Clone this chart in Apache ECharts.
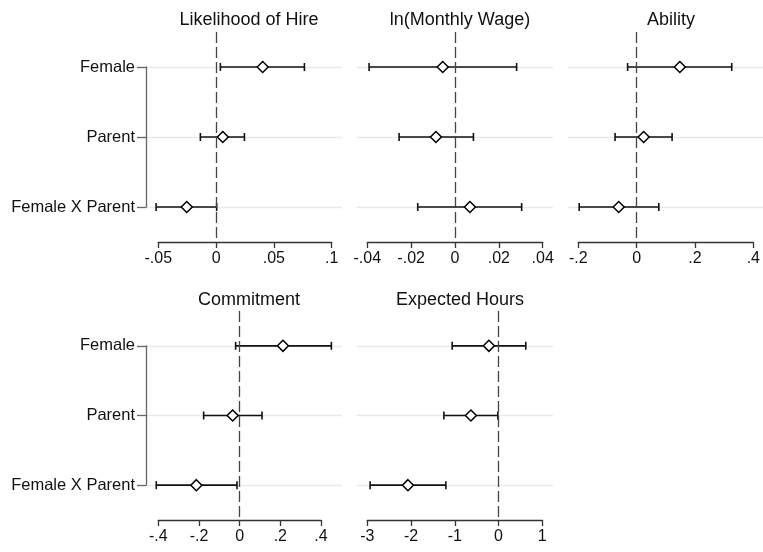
<!DOCTYPE html>
<html>
<head>
<meta charset="utf-8">
<script src="https://cdn.jsdelivr.net/npm/echarts@6/dist/echarts.min.js"></script>
<style>
  html, body { margin: 0; padding: 0; background: #fff; }
  #main { width: 763px; height: 552px; }
</style>
</head>
<body>
<div id="main"></div>
<script>
// coefficient rows, top to bottom
var categories = ['Female', 'Parent', 'Female X Parent'];

// point estimates and 95% CI bounds
var hireEst = [0.0403, 0.0058, -0.0254];
var hireLo  = [0.0037, -0.0136, -0.0519];
var hireHi  = [0.0764, 0.0245, 0.0005];

var wageEst = [-0.0056, -0.0087, 0.0068];
var wageLo  = [-0.0392, -0.0255, -0.0170];
var wageHi  = [0.0281, 0.0084, 0.0304];

var abilityEst = [0.148, 0.024, -0.0615];
var abilityLo  = [-0.031, -0.074, -0.197];
var abilityHi  = [0.326, 0.1215, 0.076];

var commitEst = [0.213, -0.0344, -0.213];
var commitLo  = [-0.0197, -0.177, -0.41];
var commitHi  = [0.451, 0.110, -0.013];

var hoursEst = [-0.221, -0.632, -2.071];
var hoursLo  = [-1.06, -1.249, -2.936];
var hoursHi  = [0.623, -0.016, -1.204];

// x axis ticks: [min, max, step]
var hireTicks = [-0.05, 0.1, 0.05];
var wageTicks = [-0.04, 0.04, 0.02];
var abilityTicks = [-0.2, 0.4, 0.2];
var commitTicks = [-0.4, 0.4, 0.2];
var hoursTicks = [-3, 1, 1];

var FONT = '"Liberation Sans", Arial, sans-serif';

var panels = [
  {title: 'Likelihood of Hire', est: hireEst, lo: hireLo, hi: hireHi, ticks: hireTicks,
   plotLeft: 146, axLeft: 158.3, axWidth: 173.4, top: 32, height: 210, titleTop: 6, labels: true},
  {title: 'ln(Monthly Wage)', est: wageEst, lo: wageLo, hi: wageHi, ticks: wageTicks,
   plotLeft: 357, axLeft: 367.3, axWidth: 175.4, top: 32, height: 210, titleTop: 6, labels: false},
  {title: 'Ability', est: abilityEst, lo: abilityLo, hi: abilityHi, ticks: abilityTicks,
   plotLeft: 568, axLeft: 578.3, axWidth: 175.7, top: 32, height: 210, titleTop: 6, labels: false},
  {title: 'Commitment', est: commitEst, lo: commitLo, hi: commitHi, ticks: commitTicks,
   plotLeft: 146, axLeft: 158.3, axWidth: 162.7, top: 311, height: 209, titleTop: 286, labels: true},
  {title: 'Expected Hours', est: hoursEst, lo: hoursLo, hi: hoursHi, ticks: hoursTicks,
   plotLeft: 357, axLeft: 367.3, axWidth: 175, top: 311, height: 209, titleTop: 286, labels: false}
];

function stataNum(v) {
  var s = String(+(+v).toFixed(4));
  return s.replace(/^(-?)0\./, '$1.');
}

var grids = [], xAxes = [], yAxes = [], series = [], titles = [];

panels.forEach(function (p, i) {
  var wi = 2 * i, di = 2 * i + 1;
  var bracket = {color: '#666', width: 1.3};
  var axisStyle = {color: '#333', width: 1.3};

  titles.push({
    text: p.title, left: p.plotLeft + 98, top: p.titleTop, textAlign: 'center',
    textStyle: {fontFamily: FONT, fontSize: 18, fontWeight: 'normal', color: '#111'}
  });

  // wide grid: light row lines + the label bracket
  grids.push({left: p.plotLeft, width: 196, top: p.top + p.height / 6, height: p.height * 2 / 3});
  xAxes.push({gridIndex: wi, type: 'value', min: 0, max: 1, show: false});
  yAxes.push({
    gridIndex: wi, type: 'category', data: categories, inverse: true, boundaryGap: false,
    axisLine: {show: p.labels, lineStyle: bracket},
    axisTick: {show: p.labels, length: 9, lineStyle: bracket},
    axisLabel: {show: p.labels, fontFamily: FONT, fontSize: 16.5, color: '#111', margin: 11},
    splitLine: {show: true, lineStyle: {color: '#e9e9e9', width: 1.3}}
  });

  // data grid
  grids.push({left: p.axLeft, width: p.axWidth, top: p.top, height: p.height});
  xAxes.push({
    gridIndex: di, type: 'value', min: p.ticks[0], max: p.ticks[1], interval: p.ticks[2],
    axisLine: {show: true, onZero: false, lineStyle: axisStyle},
    axisTick: {show: true, length: 6, lineStyle: axisStyle},
    axisLabel: {fontFamily: FONT, fontSize: 16, color: '#111', margin: 9,
                showMinLabel: true, showMaxLabel: true, formatter: stataNum},
    splitLine: {show: false}
  });
  yAxes.push({gridIndex: di, type: 'category', data: categories, inverse: true, show: false});

  series.push({
    type: 'custom', xAxisIndex: di, yAxisIndex: di, clip: false, silent: true,
    data: categories.map(function (c, k) { return [p.lo[k], p.hi[k], k]; }),
    encode: {x: [0, 1], y: 2},
    renderItem: function (params, api) {
      var y = api.value(2);
      var a = api.coord([api.value(0), y]);
      var b = api.coord([api.value(1), y]);
      var st = {stroke: '#111', lineWidth: 1.6};
      var h = 4;
      return {type: 'group', children: [
        {type: 'line', shape: {x1: a[0], y1: a[1], x2: b[0], y2: b[1]}, style: st},
        {type: 'line', shape: {x1: a[0], y1: a[1] - h, x2: a[0], y2: a[1] + h}, style: st},
        {type: 'line', shape: {x1: b[0], y1: b[1] - h, x2: b[0], y2: b[1] + h}, style: st}
      ]};
    },
    z: 3
  });

  series.push({
    type: 'scatter', xAxisIndex: di, yAxisIndex: di, silent: true,
    data: categories.map(function (c, k) { return [p.est[k], k]; }),
    symbol: 'diamond', symbolSize: 11,
    itemStyle: {color: '#fff', borderColor: '#000', borderWidth: 1.5, opacity: 1},
    markLine: {
      silent: true, symbol: 'none', label: {show: false},
      lineStyle: {color: '#444', width: 1.3, type: [11, 4]},
      data: [{xAxis: 0}]
    },
    z: 4
  });
});

var chart = echarts.init(document.getElementById('main'), null, {renderer: 'canvas'});
chart.setOption({
  backgroundColor: '#fff',
  animation: false,
  title: titles,
  grid: grids,
  xAxis: xAxes,
  yAxis: yAxes,
  series: series
});
</script>
</body>
</html>
